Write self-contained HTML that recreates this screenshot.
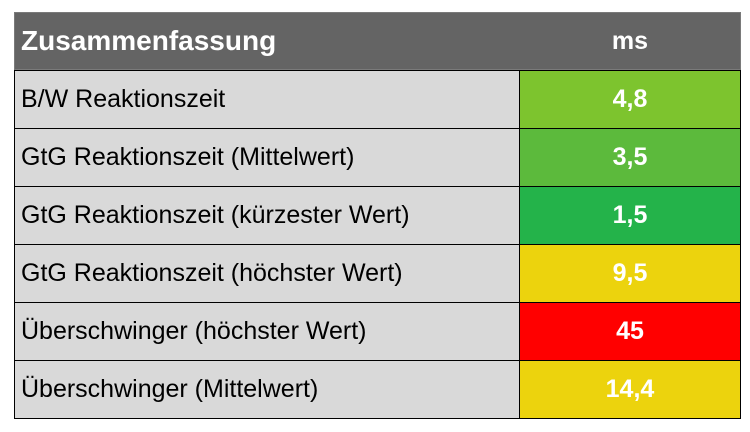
<!DOCTYPE html>
<html><head><meta charset="utf-8"><style>
body{margin:0;width:750px;height:432px;background:#fff;position:relative;font-family:"Liberation Sans",sans-serif;overflow:hidden}
.c{position:absolute;box-sizing:border-box;display:flex;align-items:center}
.l{left:14px;width:506px;background:#d9d9d9;border:1px solid #000;padding-left:6px;font-size:25px;color:#000}
.v{left:519px;width:222px;border:1px solid #000;justify-content:center;font-weight:bold;font-size:25px;color:#fff}
</style></head><body>
<div>
<div class="c" style="left:14px;top:12px;width:727px;height:58px;background:#646464;border:1px solid #7a7a7a;padding-left:6px;color:#fff;font-weight:bold;font-size:28px">Zusammenfassung</div>
<div class="c" style="left:519px;top:12px;width:222px;height:58px;justify-content:center;color:#fff;font-weight:bold;font-size:25px">ms</div>
<div class="c l" style="top:70px;height:59px">B/W Reaktionszeit</div>
<div class="c v" style="top:70px;height:59px;background:#7dc42e">4,8</div>
<div class="c l" style="top:128px;height:59px">GtG Reaktionszeit (Mittelwert)</div>
<div class="c v" style="top:128px;height:59px;background:#5cba3c">3,5</div>
<div class="c l" style="top:186px;height:59px">GtG Reaktionszeit (kürzester Wert)</div>
<div class="c v" style="top:186px;height:59px;background:#24b34a">1,5</div>
<div class="c l" style="top:244px;height:59px">GtG Reaktionszeit (höchster Wert)</div>
<div class="c v" style="top:244px;height:59px;background:#ecd30d">9,5</div>
<div class="c l" style="top:302px;height:59px">Überschwinger (höchster Wert)</div>
<div class="c v" style="top:302px;height:59px;background:#ff0000">45</div>
<div class="c l" style="top:360px;height:59px">Überschwinger (Mittelwert)</div>
<div class="c v" style="top:360px;height:59px;background:#ecd30d">14,4</div>
</div>
</body></html>
